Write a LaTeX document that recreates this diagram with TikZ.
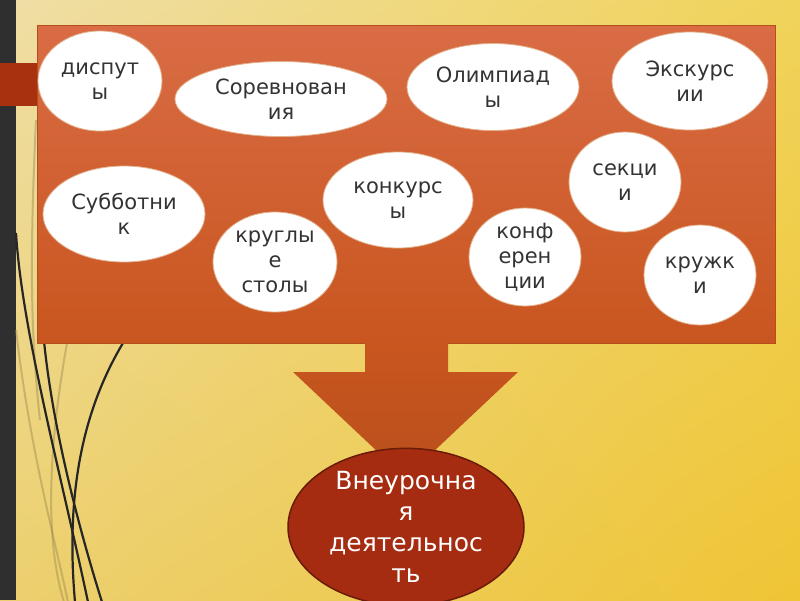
\documentclass[tikz,border=0pt]{standalone}
\usepackage{fontspec}
\setmainfont{DejaVu Sans}
\usetikzlibrary{shapes.geometric,shadings}
\definecolor{bgA}{HTML}{EFDEA6}
\definecolor{bgB}{HTML}{F0D35A}
\definecolor{bgC}{HTML}{ECD070}
\definecolor{bgD}{HTML}{EFC535}
\definecolor{strip}{HTML}{2F2F2F}
\definecolor{tab}{HTML}{A83210}
\definecolor{rectTop}{HTML}{D96C45}
\definecolor{rectBot}{HTML}{C9561F}
\definecolor{ovalEdge}{HTML}{E2B08C}
\definecolor{txt}{HTML}{333333}
\definecolor{mainFill}{HTML}{A52C10}
\definecolor{mainEdge}{HTML}{6A1A08}
\definecolor{faint}{HTML}{9A8A50}
\tikzset{
  oval/.style={ellipse, fill=white, draw=ovalEdge, line width=0.8pt, inner sep=0pt,
    align=center, text=txt, font=\fontsize{21}{25}\selectfont},
  deco/.style={draw=black!85, line width=2.2pt},
  decofaint/.style={draw=faint, line width=2pt, opacity=0.45}
}
\begin{document}
\begin{tikzpicture}[x=1pt,y=-1pt]
\useasboundingbox (0,0) rectangle (800,600);
% background
\shade[upper left=bgA, upper right=bgB, lower left=bgC, lower right=bgD] (0,0) rectangle (800,600);
\fill[strip] (0,0) rectangle (16,600);
% decorative curves
\draw[decofaint] (16,330) .. controls (30,450) and (55,540) .. (68,602);
\draw[decofaint] (67,343) .. controls (48,450) and (45,540) .. (64,602);
\draw[decofaint] (36,120) .. controls (30,250) and (30,330) .. (40,420);
\draw[deco] (16,233) .. controls (22,330) and (60,470) .. (88,602);
\draw[deco] (41,290) .. controls (42,380) and (70,500) .. (102,602);
\draw[deco] (123,343) .. controls (80,415) and (66,500) .. (75,602);
% tab
\fill[tab] (0,63) rectangle (38,106);
% main panel
\shade[top color=rectTop, bottom color=rectBot, draw=rectBot!90!black, line width=0.5pt] (37,25) rectangle (775,343);
% arrow
\shade[top color=rectBot, bottom color=rectBot!92!black]
  (365,340) -- (448,340) -- (448,372) -- (518,372) -- (405.5,478) -- (293,372) -- (365,372) -- cycle;
% ovals
\node[oval, minimum width=124pt, minimum height=100pt] (disp) at (100,81) {диспут\\ы};
\node[oval, minimum width=212pt, minimum height=75pt] (sorev) at (281,99) {Соревнован\\ия};
\node[oval, minimum width=172pt, minimum height=87pt] (olimp) at (493,87) {Олимпиад\\ы};
\node[oval, minimum width=156pt, minimum height=98pt] (eksk) at (690,81) {Экскурс\\ии};
\node[oval, minimum width=162pt, minimum height=96pt] (subb) at (124,214) {Субботни\\к};
\node[oval, minimum width=150pt, minimum height=96pt] (konk) at (398,200) {конкурс\\ы};
\node[oval, minimum width=112pt, minimum height=100pt] (sekc) at (625,182) {секци\\и};
\node[oval, minimum width=124pt, minimum height=100pt] (krug) at (275,262) {круглы\\е\\столы};
\node[oval, minimum width=112pt, minimum height=98pt] (konf) at (525,257) {конф\\ерен\\ции};
\node[oval, minimum width=112pt, minimum height=100pt] (kruzh) at (700,275) {кружк\\и};
% result
\node[ellipse, fill=mainFill, draw=mainEdge, line width=1.5pt, inner sep=0pt,
  minimum width=236pt, minimum height=140pt, align=center, text=white,
  font=\fontsize{25}{31}\selectfont] (vneur) at (406,527) {Внеурочна\\я\\деятельнос\\ть};
\end{tikzpicture}
\end{document}
